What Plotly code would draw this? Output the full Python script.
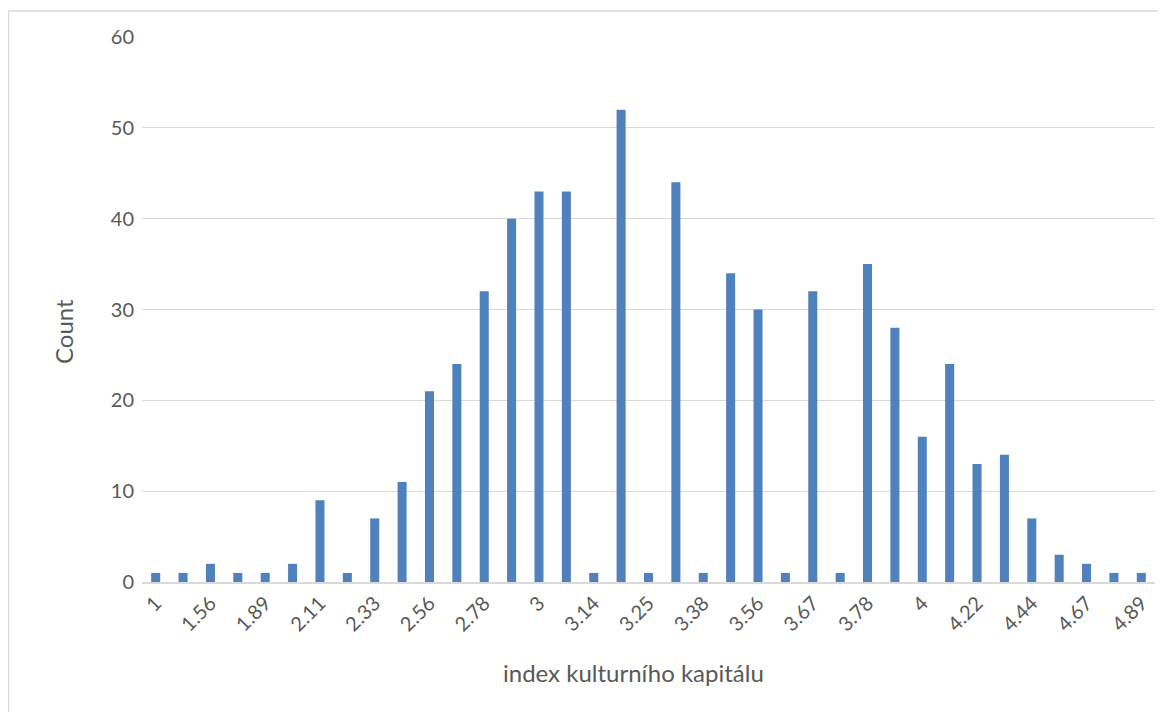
import plotly.graph_objects as go

categories = ["1", "1.44", "1.56", "1.78", "1.89", "2", "2.11", "2.22", "2.33", "2.44",
              "2.56", "2.67", "2.78", "2.89", "3", "3.11", "3.14", "3.22", "3.25", "3.33",
              "3.38", "3.44", "3.56", "3.63", "3.67", "3.71", "3.78", "3.89", "4", "4.11",
              "4.22", "4.33", "4.44", "4.56", "4.67", "4.78", "4.89"]
counts = [1, 1, 2, 1, 1, 2, 9, 1, 7, 11,
          21, 24, 32, 40, 43, 43, 1, 52, 1, 44,
          1, 34, 30, 1, 32, 1, 35, 28, 16, 24,
          13, 14, 7, 3, 2, 1, 1]
tick_labels = categories[::2]
y_ticks = [0, 10, 20, 30, 40, 50, 60]

# page offset (body margin) of the figure
OFF = 8
W, H = 1150, 704
L = 142 - OFF
T = 37 - OFF
plot_right = 1155 - OFF
plot_bottom = 582 - OFF
R = W - plot_right
B = H - plot_bottom
pw, ph = W - L - R, H - T - B


def px_x(x):
    return (x - OFF - L) / pw


def px_y(y):
    return (plot_bottom - (y - OFF)) / ph


fig = go.Figure()
fig.add_trace(go.Bar(
    x=categories, y=counts,
    marker=dict(color="#4F81BD", line=dict(width=0)),
    width=0.33,
))

font_main = "Lato, Carlito, 'Open Sans', sans-serif"
gray = "#595959"

fig.update_layout(
    width=W, height=H,
    margin=dict(l=L, r=R, t=T, b=B),
    paper_bgcolor="white", plot_bgcolor="white",
    showlegend=False,
    font=dict(family=font_main, color=gray, size=20),
    xaxis=dict(
        type="category",
        categoryorder="array", categoryarray=categories,
        range=[-0.5, len(categories) - 0.5],
        tickmode="array", tickvals=tick_labels, ticktext=tick_labels,
        tickangle=-45,
        tickfont=dict(size=20, color=gray, family=font_main),
        showgrid=False,
        showline=True, linecolor="#d9d9d9", linewidth=1.5,
        ticks="", zeroline=False,
    ),
    yaxis=dict(
        range=[0, 60],
        tickmode="array", tickvals=y_ticks,
        tickfont=dict(size=20, color=gray, family=font_main),
        showgrid=True, gridcolor="#d9d9d9", gridwidth=1.2,
        zeroline=False, showline=False, ticks="",
        ticklabelstandoff=7,
    ),
    shapes=[
        dict(type="line", xref="paper", yref="paper",
             x0=px_x(8.5), x1=px_x(8.5), y0=px_y(11), y1=px_y(730),
             line=dict(color="#d9d9d9", width=1.5)),
        dict(type="line", xref="paper", yref="paper",
             x0=px_x(8.5), x1=px_x(1180), y0=px_y(11), y1=px_y(11),
             line=dict(color="#d9d9d9", width=1.5)),
    ],
    annotations=[
        dict(text="Count", xref="paper", yref="paper",
             x=px_x(63), y=px_y(332), textangle=-90, showarrow=False,
             xanchor="center", yanchor="middle",
             font=dict(size=24, color=gray, family=font_main)),
        dict(text="index kulturního kapitálu", xref="paper", yref="paper",
             x=px_x(633), y=px_y(672), showarrow=False,
             xanchor="center", yanchor="middle",
             font=dict(size=24, color=gray, family=font_main)),
        dict(text="N=580", xref="paper", yref="paper",
             x=px_x(0), y=px_y(9), showarrow=False,
             xanchor="left", yanchor="bottom",
             font=dict(size=24, color="black",
                       family="'Liberation Serif', 'Times New Roman', serif")),
    ],
)

fig.write_html("out.html")
